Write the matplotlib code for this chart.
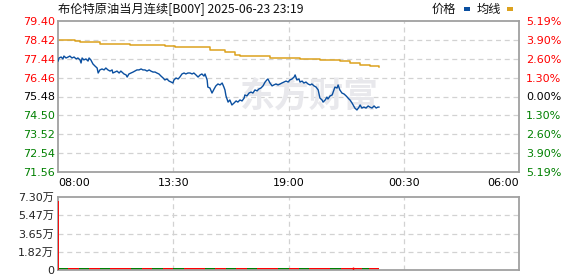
import matplotlib
matplotlib.use("Agg")
import matplotlib.pyplot as plt
from matplotlib.patches import Rectangle

# ---------------- data ----------------
title = "布伦特原油当月连续[B00Y] 2025-06-23 23:19"
prev_close = 75.48
price_ticks = [71.56, 72.54, 73.52, 74.50, 75.48, 76.46, 77.44, 78.42, 79.40]
pct_labels = ["5.19%", "3.90%", "2.60%", "1.30%", "0.00%", "1.30%", "2.60%", "3.90%", "5.19%"]
time_ticks = [0, 330, 660, 990, 1320]           # minutes after 08:00
time_labels = ["08:00", "13:30", "19:00", "00:30", "06:00"]

price_minutes = [0, 3, 9, 14, 17, 23, 29, 34, 40, 46, 52, 57, 63, 66, 69, 74, 80, 86, 89, 94,
                 100, 106, 112, 115, 120, 126, 132, 137, 143, 149, 155, 157, 163, 169, 175, 180,
                 183, 189, 195, 198, 203, 209, 215, 220, 226, 232, 238, 243, 249, 255, 261, 266,
                 272, 278, 283, 289, 295, 301, 306, 312, 318, 324, 329, 332, 338, 344, 349, 355,
                 361, 366, 372, 378, 384, 389, 395, 401, 407, 412, 418, 421, 427, 429, 435, 441,
                 447, 452, 458, 464, 470, 475, 478, 481, 487, 492, 498, 504, 510, 515, 521, 527,
                 533, 535, 541, 547, 553, 558, 564, 570, 575, 581, 587, 593, 598, 601, 607, 613,
                 618, 624, 630, 636, 641, 647, 653, 659, 664, 670, 676, 679, 684, 690, 693, 699,
                 704, 710, 716, 722, 727, 733, 739, 745, 750, 756, 759, 765, 770, 773, 779, 785,
                 790, 793, 799, 802, 807, 813, 819, 825, 828, 833, 836, 842, 845, 850, 856, 862,
                 865, 870, 876, 882, 888, 893, 899, 905, 911, 916, 919]
price_values = [77.32, 77.48, 77.53, 77.43, 77.58, 77.48, 77.53, 77.58, 77.48, 77.53, 77.43, 77.48,
                77.38, 77.22, 77.48, 77.38, 77.43, 77.32, 77.48, 77.38, 77.17, 77.06, 76.96, 76.70,
                76.86, 76.91, 76.86, 76.96, 76.86, 76.80, 76.86, 76.70, 76.75, 76.80, 76.70, 76.80,
                76.75, 76.65, 76.60, 76.49, 76.65, 76.70, 76.75, 76.80, 76.86, 76.86, 76.91, 76.86,
                76.86, 76.80, 76.86, 76.80, 76.75, 76.75, 76.70, 76.65, 76.54, 76.44, 76.34, 76.39,
                76.28, 76.23, 76.18, 76.34, 76.44, 76.39, 76.49, 76.65, 76.70, 76.65, 76.70, 76.70,
                76.65, 76.70, 76.60, 76.49, 76.60, 76.65, 76.54, 76.65, 76.34, 75.97, 75.92, 75.66,
                75.87, 76.03, 76.13, 76.08, 76.18, 75.97, 75.82, 75.51, 75.19, 75.30, 75.04, 75.14,
                75.25, 75.19, 75.30, 75.25, 75.40, 75.56, 75.51, 75.66, 75.71, 75.66, 75.82, 75.77,
                75.87, 75.92, 76.03, 76.23, 76.34, 76.39, 76.18, 76.03, 76.08, 76.13, 76.08, 76.13,
                76.18, 76.23, 76.28, 76.23, 76.34, 76.39, 76.49, 76.60, 76.34, 76.39, 76.23, 76.28,
                76.18, 76.23, 76.13, 76.08, 76.13, 76.03, 75.97, 75.82, 75.40, 75.30, 75.19, 75.30,
                75.45, 75.35, 75.51, 75.56, 75.82, 75.97, 75.92, 76.08, 75.82, 75.66, 75.61, 75.51,
                75.45, 75.35, 75.30, 75.14, 75.04, 74.88, 74.78, 74.93, 75.04, 74.88, 74.93, 74.88,
                74.99, 74.93, 74.88, 74.99, 74.88, 74.93, 74.93]

avg_minutes = [0, 49, 63, 120, 206, 306, 335, 392, 435, 478, 507, 521, 607, 693, 750, 807, 836,
               865, 893, 919]
avg_values = [78.39, 78.36, 78.31, 78.18, 78.13, 78.08, 78.05, 78.05, 77.92, 77.79, 77.63, 77.56,
              77.50, 77.43, 77.35, 77.30, 77.22, 77.12, 77.06, 77.01]

vol_ticks = [0, 18250, 36500, 54750, 73000]
vol_tick_labels = ["0", "1.82万", "3.65万", "5.47万", "7.30万"]
vol_open_minute = 0
vol_open = 69000
vol_minutes = [15, 45, 75, 105, 135, 165, 195, 225, 255, 285, 315, 345, 375, 405, 435, 465,
               495, 525, 555, 585, 615, 645, 675, 705, 735, 765, 795, 825, 855, 885, 905]
vol_values = [2000, 1900, 2100, 2000, 1900, 2100, 2000, 1900, 2100, 2000, 2000, 1900, 2100, 2100,
              2000, 1900, 2100, 2000, 1900, 2100, 2100, 1900, 2000, 2100, 2000, 2100, 2000, 2000,
              2000, 1900, 2100]
vol_up = [False, True, False, True, False, True, True, False, True, False, True, False, True,
          True, False, True, False, True, False, True, True, False, True, False, True, True,
          False, True, True, False, True]
vol_spike_minute = 845
vol_spike = 3500

# ---------------- style ----------------
RED = "#ff0000"
GREEN = "#008000"
BLUE = "#0a4fa0"
GOLD = "#dca21e"
GRID = "#d2d2d2"
FRAME = "#a0a0a0"
CJK = ["Noto Sans CJK SC", "DejaVu Sans"]
NUM = ["DejaVu Sans", "Noto Sans CJK SC"]

W, H = 578, 276
fig = plt.figure(figsize=(W / 100, H / 100), dpi=100)
fig.patch.set_facecolor("white")

def fx(px):
    return px / W

def fy(py):
    return 1 - py / H

L, R = 58, 519
ax = fig.add_axes([fx(L), fy(172), (R - L) / W, (172 - 21) / H])
axv = fig.add_axes([fx(L), fy(270), (R - L) / W, (270 - 197) / H])

for a in (ax, axv):
    a.set_xlim(0, 1320)
    for s in a.spines.values():
        s.set_color(FRAME)
        s.set_linewidth(1.3)
    a.tick_params(length=0)
    for t in time_ticks[1:-1]:
        a.axvline(t, color=GRID, lw=0.9, ls=(0, (4, 3)), zorder=0)

# main price panel
ax.set_ylim(price_ticks[0], price_ticks[-1])
ax.set_yticks(price_ticks)
for p in price_ticks[1:-1]:
    ax.axhline(p, color=GRID, lw=0.9, ls=(0, (4, 3)), zorder=0)

ax.text(0.545, 0.50, "东方财富", transform=ax.transAxes, ha="center", va="center",
        fontsize=25, fontweight="bold", color="#e8e8ec", family=CJK, zorder=0.5)

ax.plot(avg_minutes, avg_values, color=GOLD, lw=1.1, drawstyle="steps-post", zorder=2)
ax.plot(price_minutes, price_values, color=BLUE, lw=1.0, zorder=3)

def price_color(v):
    if abs(v - prev_close) < 1e-6:
        return "black"
    return RED if v > prev_close else GREEN

ax.set_yticklabels([f"{v:.2f}" for v in price_ticks], family=NUM, fontsize=8)
for lab, v in zip(ax.get_yticklabels(), price_ticks):
    lab.set_color(price_color(v))
ax.tick_params(axis="y", pad=2)

axr = ax.twinx()
axr.set_ylim(ax.get_ylim())
axr.set_yticks(price_ticks)
axr.set_yticklabels(pct_labels, family=NUM, fontsize=8)
for lab, v in zip(axr.get_yticklabels(), price_ticks):
    lab.set_color(price_color(v))
axr.tick_params(length=0, pad=5)
for s in axr.spines.values():
    s.set_visible(False)

ax.set_xticks(time_ticks)
ax.set_xticklabels(time_labels, family=NUM, fontsize=8)
ax.tick_params(axis="x", pad=4)
labs = ax.get_xticklabels()
labs[0].set_horizontalalignment("left")
labs[-1].set_horizontalalignment("right")

# volume panel
axv.set_ylim(0, vol_ticks[-1])
axv.set_yticks(vol_ticks)
axv.set_yticklabels(vol_tick_labels, family=NUM, fontsize=8, color="#222222")
axv.tick_params(axis="y", pad=3)
axv.set_xticks([])
for v in vol_ticks[1:-1]:
    axv.axhline(v, color=GRID, lw=0.9, ls=(0, (4, 3)), zorder=0)
axv.bar(vol_minutes, vol_values, width=30, color=[RED if u else GREEN for u in vol_up],
        align="center", zorder=2, linewidth=0)
axv.vlines([vol_open_minute + 1], 0, [vol_open], color=RED, lw=1.3, zorder=3)
axv.vlines([vol_spike_minute], 0, [vol_spike], color=RED, lw=1.0, zorder=3)

# title and legend
fig.text(fx(58), fy(9), title, family=CJK, fontsize=8.8, ha="left", va="center", color="#111111")
fig.text(fx(432), fy(9), "价格", family=CJK, fontsize=8.8, ha="left", va="center", color="#111111")
fig.patches.append(Rectangle((fx(464), fy(10.5)), 6 / W, 3 / H, transform=fig.transFigure,
                             facecolor=BLUE, edgecolor="none"))
fig.text(fx(477), fy(9), "均线", family=CJK, fontsize=8.8, ha="left", va="center", color="#111111")
fig.patches.append(Rectangle((fx(507), fy(10.5)), 6 / W, 3 / H, transform=fig.transFigure,
                             facecolor=GOLD, edgecolor="none"))

fig.savefig("out.png", dpi=100, facecolor="white")
